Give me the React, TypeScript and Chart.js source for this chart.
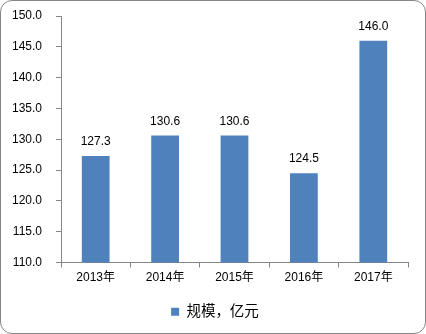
import React, { useEffect, useRef } from "react";
import { Chart, registerables } from "chart.js";

Chart.register(...registerables);

const categories = ["2013年", "2014年", "2015年", "2016年", "2017年"];
const values = [127.3, 130.6, 130.6, 124.5, 146.0];
const seriesName = "规模，亿元";
const yMin = 110;
const yMax = 150;
const yStep = 5;

const FONT = "'Liberation Sans', 'Noto Sans CJK SC', sans-serif";
const AXIS = "#868686";

const labelPlugin = {
  id: "barLabels",
  afterDatasetsDraw(chart: any) {
    const ctx = chart.ctx;
    const meta = chart.getDatasetMeta(0);
    ctx.save();
    ctx.font = `12px ${FONT}`;
    ctx.fillStyle = "#000";
    ctx.textAlign = "center";
    ctx.textBaseline = "middle";
    meta.data.forEach((el: any, i: number) => {
      ctx.fillText(values[i].toFixed(1), el.x, el.y - 14);
    });
    ctx.restore();
  },
};

export default function App() {
  const ref = useRef<HTMLCanvasElement>(null);
  useEffect(() => {
    document.body.style.margin = "0";
    const chart = new Chart(ref.current!, {
      type: "bar",
      data: {
        labels: categories,
        datasets: [
          {
            label: seriesName,
            data: values,
            backgroundColor: "#4F81BD",
            barPercentage: 0.4,
            categoryPercentage: 1,
          },
        ],
      },
      options: {
        animation: false,
        responsive: false,
        maintainAspectRatio: false,
        layout: { padding: { left: 4, right: 0, top: 15, bottom: 4 } },
        plugins: {
          tooltip: { enabled: false },
          legend: {
            position: "bottom",
            labels: {
              font: { family: FONT, size: 14.5 },
              color: "#000",
              boxWidth: 8,
              boxHeight: 8,
              padding: 8,
            },
          },
        },
        scales: {
          x: {
            grid: {
              display: true,
              drawOnChartArea: false,
              drawTicks: true,
              tickLength: 5,
              color: AXIS,
              offset: true,
            },
            border: { color: AXIS },
            ticks: { font: { family: FONT, size: 12 }, color: "#000", padding: 3 },
            afterFit: (s: any) => {
              s.height = 34;
            },
          },
          y: {
            min: yMin,
            max: yMax,
            grid: {
              display: true,
              drawOnChartArea: false,
              drawTicks: true,
              tickLength: 5,
              color: AXIS,
            },
            border: { color: AXIS },
            ticks: {
              stepSize: yStep,
              font: { family: FONT, size: 12 },
              color: "#000",
              padding: 14,
              callback: (v: any) => Number(v).toFixed(1),
            },
            afterFit: (s: any) => {
              s.width = 56;
              s.paddingTop = 0;
              s.paddingBottom = 0;
            },
          },
          yRight: {
            position: "right",
            grid: { display: false },
            border: { display: false },
            ticks: { display: false },
            afterFit: (s: any) => {
              s.width = 17;
              s.paddingTop = 0;
              s.paddingBottom = 0;
            },
          },
        },
      },
      plugins: [labelPlugin],
    });
    return () => chart.destroy();
  }, []);
  return (
    <div
      style={{
        position: "absolute",
        left: 0,
        top: 0,
        width: 426,
        height: 334,
        boxSizing: "border-box",
        border: `1px solid ${AXIS}`,
        borderRadius: 12,
        overflow: "hidden",
        background: "#fff",
      }}
    >
      <canvas ref={ref} width={424} height={332} style={{ display: "block" }} />
    </div>
  );
}
